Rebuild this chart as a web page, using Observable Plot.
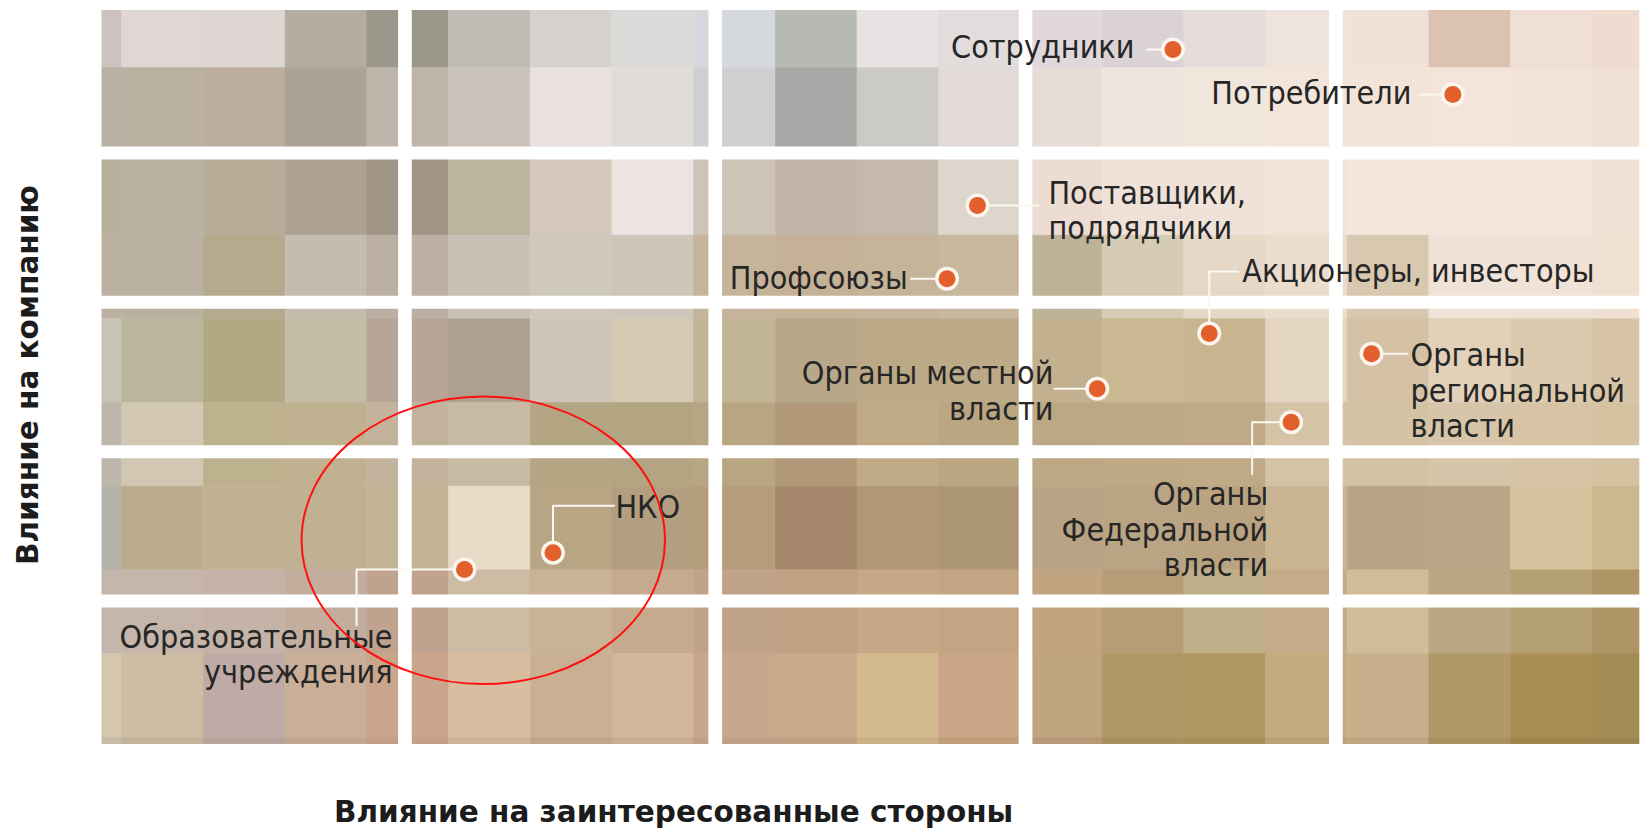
<!DOCTYPE html>
<html>
<head>
<meta charset="utf-8">
<script src="https://cdn.jsdelivr.net/npm/d3@7"></script>
<script src="https://cdn.jsdelivr.net/npm/@observablehq/plot@0.6"></script>
<style>
  html, body { margin: 0; padding: 0; background: #ffffff; }
  #chart svg { display: block; }
</style>
</head>
<body>
<div id="chart"></div>
<script>
// ---------------- DATA ----------------
const stakeholders = [
  "Сотрудники",
  "Потребители",
  "Поставщики,\nподрядчики",
  "Профсоюзы",
  "Акционеры, инвесторы",
  "Органы местной\nвласти",
  "Органы\nФедеральной\nвласти",
  "Органы\nрегиональной\nвласти",
  "НКО",
  "Образовательные\nучреждения"
];
// x: влияние на заинтересованные стороны (0–5), y: влияние на компанию (0–5)
const influenceOnStakeholders = [3.475, 4.377, 2.845, 2.747, 3.592, 3.231, 3.856, 4.115, 1.477, 1.192];
const influenceOnCompany      = [4.692, 4.391, 3.648, 3.157, 2.791, 2.421, 2.197, 2.655, 1.323, 1.211];

const axisTitleX = "Влияние на заинтересованные стороны";
const axisTitleY = "Влияние на компанию";

// highlighted area (ellipse): centre and radii in chart units
const highlightCenter = [1.254, 1.404];
const highlightRadii = [0.5856, 0.962];

// background mosaic colours (rows top→bottom, columns left→right)
const mosaicRow0 = ["#cdc2bf","#e0d6d3","#ded6d2","#b5ada0","#9b988b","#c0bcb6","#d5d1cc","#dcdad8","#d5d8dc","#b6bab3","#e8e3e2","#e3dcdc","#e0d8da","#dbd2d5","#e6dcda","#efe4dd","#f0e2d8","#dcc2b0","#efdfd4","#efdcd0"];
const mosaicRow1 = ["#b9b1a3","#bab1a1","#bcad9e","#aba393","#bdb4aa","#cbc2bc","#e8e1de","#e2dcd8","#cfcfd2","#a9a8a6","#cbcac6","#e2dad8","#e5dcd8","#efe5dc","#f0e6dc","#f3e5da","#f3e4d8","#f4e5da","#f2e3d8","#f0dfd3"];
const mosaicRow2 = ["#b7b09d","#b9b29e","#b7ad98","#ada292","#a19685","#bdb4a0","#d3c8bb","#ece4e1","#cdc3b6","#c2b4a9","#c5b8ad","#ddd6cc","#ecdcd2","#efe1d8","#efe2d8","#f1e3d8","#f4e6dc","#f4e6dd","#f3e5da","#f2e2d6"];
const mosaicRow3 = ["#bcb1a0","#bbb1a0","#b5aa8e","#c6bcae","#bbb0a3","#c8c0b4","#cfc8bc","#cec6b8","#c6b49a","#c4b196","#c5b39a","#c7b79d","#bdb396","#d6cbb4","#e6d8c6","#ebdccd","#d8c8b0","#efe2d6","#f0e2d6","#efe0d2"];
const mosaicRow4 = ["#c8c3b7","#bbb59e","#b0a882","#c5bca5","#b7a697","#afa092","#cfc4b8","#d4cab2","#c1b596","#b9a78a","#bba985","#bca987","#c2b08f","#cab992","#c8b590","#e4d5c1","#d5c2a4","#e2d0b8","#dccaae","#d8c4a6"];
const mosaicRow5 = ["#bdb7ab","#d1c7b2","#beb18e","#c0b290","#c4b39c","#c9baa6","#b4a683","#b4a582","#b8a682","#b09878","#c1ab86","#baa782","#bca885","#bda985","#bfa986","#d5c3a6","#d4c2a4","#d6c5a8","#d6c4a5","#d5c2a0"];
const mosaicRow6 = ["#b3b1aa","#bcac8e","#c2b291","#c0b192","#c3b496","#e7dbc8","#b7a584","#b39f7f","#b59d7c","#a5866a","#b09776","#ad9674","#b8a484","#b9a484","#b9a381","#c8b491","#b7a485","#b8a686","#d6c19d","#cdb790"];
const mosaicRow7 = ["#c2b6ad","#c5b5ab","#c5b3a8","#c3ae9e","#c0a38e","#cdbba3","#c8b395","#c5aa8d","#c1a388","#c1a084","#c6a887","#c3a583","#c2a480","#b59d78","#c0b08a","#c4ac8a","#d1bc99","#bca783","#b49f72","#ae9462"];
const mosaicRow8 = ["#d4c7b0","#cdbba2","#bfaaa5","#c9ae98","#c9a68b","#d8bda0","#cab092","#d2b699","#c9a78c","#caa98b","#d4ba8f","#c8a584","#c0a37f","#b09864","#ae9760","#c4aa80","#c8b08c","#b09868","#a98d52","#a48c55"];
const mosaicRow9 = ["#c9bca6","#c4b299","#b8a39d","#c1a690","#c29f85","#cfb497","#c1a689","#c9ad90","#c0a084","#c1a183","#cbb086","#bf9d7b","#b89977","#a8905d","#a68f59","#bba178","#bfa784","#a89061","#a1864c","#9c844f"];
const mosaicRows = [mosaicRow0, mosaicRow1, mosaicRow2, mosaicRow3, mosaicRow4, mosaicRow5, mosaicRow6, mosaicRow7, mosaicRow8, mosaicRow9];

// ---------------- LAYOUT (pixels) ----------------
const W = 1646, H = 828;
const ML = 94.15, MR = 0.35, MT = 3, MB = 78;
const SX = (W - ML - MR) / 5, SY = (H - MT - MB) / 5;
const MOSAIC = { x0: 40, y0: -16, dx: 81.7, dy: 83.7 };

// label offsets and leader-line polylines, relative to the dot, in pixels (y down)
const labelLayout = [
  { anchor: "end",   lx: -38.5, ly: -2.5, leader: [[0,0],[-26,0]] },
  { anchor: "end",   lx: -41.4, ly: -2.2, leader: [[0,0],[-33,0]] },
  { anchor: "start", lx: 71,    ly: 5,    leader: [[0,0],[61,0]] },
  { anchor: "end",   lx: -39.4, ly: -1.5, leader: [[0,0],[-36,0]] },
  { anchor: "start", lx: 33,    ly: -63,  leader: [[0,0],[0,-62],[29,-62]] },
  { anchor: "end",   lx: -43.8, ly: 2,    leader: [[0,0],[-43,0]] },
  { anchor: "end",   lx: -23,   ly: 107,  leader: [[0,0],[-39,0],[-39,52]] },
  { anchor: "start", lx: 39,    ly: 36.5, leader: [[0,0],[36,0]] },
  { anchor: "start", lx: 62.5,  ly: -46,  leader: [[0,0],[0,-47],[61,-47]] },
  { anchor: "end",   lx: -72,   ly: 85,   leader: [[0,0],[-108,0],[-108,56]] }
];

// ---------------- DERIVED ----------------
const points = stakeholders.map((name, i) => ({ name, x: influenceOnStakeholders[i], y: influenceOnCompany[i] }));

const cells = mosaicRows.flatMap((row, j) => row.map((c, k) => ({
  x1: (MOSAIC.x0 + k * MOSAIC.dx - ML) / SX,
  x2: (MOSAIC.x0 + (k + 1) * MOSAIC.dx - ML) / SX,
  y1: 5 - (MOSAIC.y0 + j * MOSAIC.dy - MT) / SY,
  y2: 5 - (MOSAIC.y0 + (j + 1) * MOSAIC.dy - MT) / SY,
  c
})));

const leaderPts = points.flatMap((p, i) => labelLayout[i].leader.map(([ox, oy]) => ({
  name: p.name, x: p.x + ox / SX, y: p.y - oy / SY
})));

const labels = points.map((p, i) => ({
  name: p.name, anchor: labelLayout[i].anchor,
  tx: p.x + labelLayout[i].lx / SX, ty: p.y - labelLayout[i].ly / SY
}));

const LABEL_FONT = "'DejaVu Sans Condensed', 'DejaVu Sans', sans-serif";
const labelOpts = { x: "tx", y: "ty", text: "name", lineAnchor: "middle", lineHeight: 1.1,
  fontSize: 32, fontFamily: LABEL_FONT, fill: "#262626" };

function ellipseMark(center, radii) {
  return (index, scales) => {
    const g = d3.create("svg:g");
    const cx = scales.x(center[0]), cy = scales.y(center[1]);
    g.append("ellipse")
      .attr("cx", cx).attr("cy", cy)
      .attr("rx", Math.abs(scales.x(center[0] + radii[0]) - cx))
      .attr("ry", Math.abs(scales.y(center[1] + radii[1]) - cy))
      .attr("fill", "none").attr("stroke", "#ff1010").attr("stroke-width", 2);
    return g.node();
  };
}

const chart = Plot.plot({
  width: W, height: H,
  marginLeft: ML, marginRight: MR, marginTop: MT, marginBottom: MB,
  x: { domain: [0, 5], axis: null },
  y: { domain: [0, 5], axis: null },
  color: { type: "identity" },
  style: { background: "#ffffff" },
  marks: [
    Plot.rect(cells, { x1: "x1", x2: "x2", y1: "y1", y2: "y2", fill: "c", stroke: "c", strokeWidth: 0.6, clip: true }),
    Plot.ruleX(d3.range(0, 6), { stroke: "#ffffff", strokeWidth: 13.7 }),
    Plot.ruleY(d3.range(0, 6), { stroke: "#ffffff", strokeWidth: 13 }),
    Plot.line(leaderPts, { x: "x", y: "y", z: "name", stroke: "#fbf8f1", strokeWidth: 2, curve: "linear" }),
    Plot.dot(points, { x: "x", y: "y", r: 12, fill: "#fbf7ef" }),
    Plot.dot(points, { x: "x", y: "y", r: 8.5, fill: "#e3602c" }),
    Plot.text(labels.filter(d => d.anchor === "end"), { ...labelOpts, textAnchor: "end" }),
    Plot.text(labels.filter(d => d.anchor === "start"), { ...labelOpts, textAnchor: "start" }),
    ellipseMark(highlightCenter, highlightRadii),
    Plot.text([axisTitleX], { text: d => d, frameAnchor: "bottom-left", dx: 579, dy: 62,
      textAnchor: "middle", lineAnchor: "middle", fontSize: 29.5, fontWeight: "bold",
      fontFamily: "'DejaVu Sans', sans-serif", fill: "#1c1c1c" }),
    Plot.text([axisTitleY], { text: d => d, frameAnchor: "left", dx: -66, dy: -2, rotate: -90,
      textAnchor: "middle", lineAnchor: "middle", fontSize: 29.5, fontWeight: "bold",
      fontFamily: "'DejaVu Sans', sans-serif", fill: "#1c1c1c" })
  ]
});
document.getElementById("chart").appendChild(chart);
</script>
</body>
</html>
